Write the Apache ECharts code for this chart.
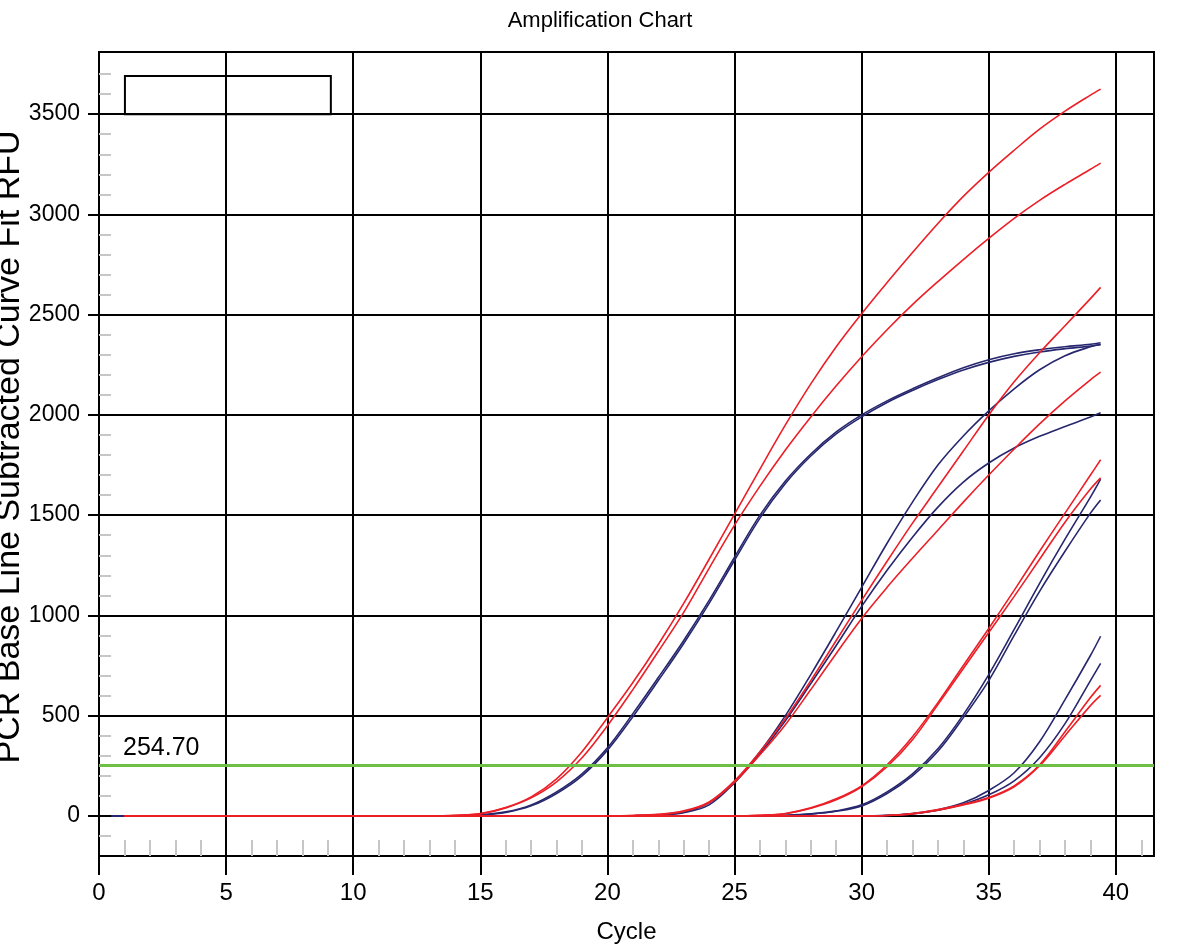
<!DOCTYPE html>
<html>
<head>
<meta charset="utf-8">
<script src="https://cdn.jsdelivr.net/npm/echarts@6/dist/echarts.min.js"></script>
<style>
  html, body { margin: 0; padding: 0; background: #fff; }
  #chart { width: 1200px; height: 950px; }
</style>
</head>
<body>
<div id="chart"></div>
<script>
// ---- data ----
const cycles = [0.5,1,2,3,4,5,6,7,8,9,10,11,12,13,14,15,16,17,18,19,20,21,22,23,24,25,26,27,28,29,30,31,32,33,34,35,36,37,38,39,39.4];

const redA1 = [null, 0,0,0,0,0,0,0,0,0,0, 0,0,0, 3,12,42,95,185,320,490,665,855,1060,1280,1505,1730,1950,2155,2340,2505,2660,2810,2955,3090,3210,3320,3425,3515,3595, 3625];
const redA2 = [null, 0,0,0,0,0,0,0,0,0,0, 0,0,0, 2,10,40,90,170,290,450,630,820,1015,1235,1450,1645,1825,1990,2145,2290,2425,2550,2665,2775,2880,2980,3070,3150,3225, 3256];
const blueA1 = [0, 0,0,0,0,0,0,0,0,0,0, 0,0,0,0, 5,20,55,120,210,340,510,690,875,1075,1290,1500,1670,1805,1915,2000,2070,2130,2185,2235,2275,2305,2325,2340,2352, 2360];
const blueA2 = [0, 0,0,0,0,0,0,0,0,0,0, 0,0,0,0, 4,17,50,112,200,328,495,675,860,1060,1275,1485,1658,1795,1905,1990,2062,2122,2176,2224,2262,2292,2314,2330,2343, 2350];

const redB1 = [null, 0,0,0,0,0,0,0,0,0,0, 0,0,0,0,0,0,0,0,0,0, 2,8,25,70,175,320,485,675,875,1075,1270,1460,1640,1820,2000,2165,2310,2445,2580, 2636];
const redB2 = [null, 0,0,0,0,0,0,0,0,0,0, 0,0,0,0,0,0,0,0,0,0, 2,7,22,65,168,305,455,630,810,985,1140,1285,1425,1565,1700,1830,1955,2070,2175, 2213];
const blueB1 = [0, 0,0,0,0,0,0,0,0,0,0, 0,0,0,0,0,0,0,0,0,0, 1,4,18,65,170,320,500,705,920,1140,1360,1565,1750,1895,2020,2130,2225,2295,2340, 2352];
const blueB2 = [0, 0,0,0,0,0,0,0,0,0,0, 0,0,0,0,0,0,0,0,0,0, 1,4,16,55,165,310,475,660,850,1045,1225,1390,1540,1665,1760,1835,1893,1942,1990, 2011];

const redC1 = [null, 0,0,0,0,0,0,0,0,0,0, 0,0,0,0,0,0,0,0,0,0, 0,0,0,0,0, 3,12,40,85,150,255,395,565,750,935,1125,1320,1510,1700, 1776];
const redC2 = [null, 0,0,0,0,0,0,0,0,0,0, 0,0,0,0,0,0,0,0,0,0, 0,0,0,0,0, 3,11,38,80,145,245,380,555,735,915,1095,1280,1465,1630, 1686];
const blueC1 = [0, 0,0,0,0,0,0,0,0,0,0, 0,0,0,0,0,0,0,0,0,0, 0,0,0,0,0,0, 3,10,25,55,120,210,335,505,705,930,1160,1380,1590, 1680];
const blueC2 = [0, 0,0,0,0,0,0,0,0,0,0, 0,0,0,0,0,0,0,0,0,0, 0,0,0,0,0,0, 2,9,23,50,112,200,322,490,675,900,1120,1320,1510, 1576];

const blueD1 = [0, 0,0,0,0,0,0,0,0,0,0, 0,0,0,0,0,0,0,0,0,0, 0,0,0,0,0,0,0,0,0,0, 3,12,30,65,127,215,370,580,800, 896];
const blueD2 = [0, 0,0,0,0,0,0,0,0,0,0, 0,0,0,0,0,0,0,0,0,0, 0,0,0,0,0,0,0,0,0,0, 2,10,28,58,105,175,290,460,675, 761];
const redD1 = [null, 0,0,0,0,0,0,0,0,0,0, 0,0,0,0,0,0,0,0,0,0, 0,0,0,0,0,0,0,0,0,0, 2,12,32,58,92,150,255,420,590, 651];
const redD2 = [null, 0,0,0,0,0,0,0,0,0,0, 0,0,0,0,0,0,0,0,0,0, 0,0,0,0,0,0,0,0,0,0, 2,10,28,54,88,145,250,400,550, 601];

const threshold = 254.70;
const thresholdLabel = '254.70';

const xMajorTicks = [0,5,10,15,20,25,30,35,40];
const xMinorTicks = [1,2,3,4,6,7,8,9,11,12,13,14,16,17,18,19,21,22,23,24,26,27,28,29,31,32,33,34,36,37,38,39,41];
const yMajorTicks = [0,500,1000,1500,2000,2500,3000,3500];
const yMinorTicks = [-100,100,200,300,400,600,700,800,900,1100,1200,1300,1400,1600,1700,1800,1900,2100,2200,2300,2400,2600,2700,2800,2900,3100,3200,3300,3400,3600,3700];

const blueSeries = [blueA1, blueA2, blueB1, blueB2, blueC1, blueC2, blueD1, blueD2];
const redSeries = [redA1, redA2, redB1, redB2, redC1, redC2, redD1, redD2];

// ---- chart ----
const RED = '#ec1f27';
const BLUE = '#27276f';
const FONT = '"Liberation Sans", Arial, sans-serif';

function toPairs(vals) { return cycles.map((c, i) => [c, vals[i]]); }

function lineSeries(vals, color) {
  return {
    type: 'line',
    data: toPairs(vals),
    xAxisIndex: 0, yAxisIndex: 0,
    showSymbol: false, symbol: 'none',
    smooth: 0.35,
    connectNulls: false,
    lineStyle: { color: color, width: 1.6 },
    itemStyle: { color: color },
    silent: true,
    animation: false
  };
}

const series = [];
blueSeries.forEach(v => series.push(lineSeries(v, BLUE)));
redSeries.forEach(v => series.push(lineSeries(v, RED)));

// decorations: threshold line and the empty box at top-left
const last = series[series.length - 1];
last.markLine = {
  silent: true, symbol: 'none', animation: false,
  lineStyle: { color: '#6dbf45', width: 3, type: 'solid' },
  label: {
    show: true, position: 'insideStartTop', formatter: thresholdLabel,
    fontFamily: FONT, fontSize: 25, color: '#000', distance: [24, 4]
  },
  data: [{ yAxis: threshold }]
};
last.markArea = {
  silent: true, animation: false,
  itemStyle: { color: 'rgba(0,0,0,0)', borderColor: '#000', borderWidth: 2 },
  data: [[{ xAxis: 1.02, yAxis: 3500 }, { xAxis: 9.12, yAxis: 3690 }]]
};

const plainFmt = v => String(v);

const chart = echarts.init(document.getElementById('chart'), null, { renderer: 'canvas' });
chart.setOption({
  animation: false,
  backgroundColor: '#fff',
  title: {
    text: 'Amplification Chart', left: 'center', top: 5,
    textStyle: { fontFamily: FONT, fontSize: 22, fontWeight: 'normal', color: '#000' }
  },
  grid: {
    left: 99, top: 52, width: 1055, height: 804,
    containLabel: false, outerBoundsMode: 'none',
    show: true, borderColor: '#000', borderWidth: 2, backgroundColor: 'transparent'
  },
  xAxis: [
    {
      type: 'value', min: 0, max: 41.5, interval: 5, position: 'bottom',
      axisLine: { show: true, onZero: false, lineStyle: { color: '#000', width: 2 } },
      axisTick: { show: true, inside: false, length: 19, lineStyle: { color: '#000', width: 2 }, customValues: xMajorTicks },
      axisLabel: { customValues: xMajorTicks, formatter: plainFmt, margin: 25, fontFamily: FONT, fontSize: 24, color: '#000' },
      splitLine: { show: true, lineStyle: { color: '#000', width: 2 } },
      name: 'Cycle', nameLocation: 'middle', nameGap: 64, nameMoveOverlap: false,
      nameTextStyle: { fontFamily: FONT, fontSize: 24, color: '#000' }
    },
    {
      type: 'value', min: 0, max: 41.5, position: 'bottom',
      axisLine: { show: false, onZero: false },
      axisTick: { show: true, inside: true, length: 16, lineStyle: { color: '#c6c6c6', width: 2 }, customValues: xMinorTicks },
      axisLabel: { show: false },
      splitLine: { show: false }
    }
  ],
  yAxis: [
    {
      type: 'value', min: -200, max: 3810, minInterval: 500, maxInterval: 500,
      axisLine: { show: true, onZero: false, lineStyle: { color: '#000', width: 2 } },
      axisTick: { show: true, inside: false, length: 11, lineStyle: { color: '#000', width: 2 }, customValues: yMajorTicks },
      axisLabel: { customValues: yMajorTicks, formatter: plainFmt, margin: 19, fontFamily: FONT, fontSize: 23, color: '#000' },
      splitLine: { show: true, lineStyle: { color: '#000', width: 2 } },
      name: 'PCR Base Line Subtracted Curve Fit RFU', nameLocation: 'middle', nameGap: 72, nameMoveOverlap: false,
      nameTextStyle: { fontFamily: FONT, fontSize: 34, color: '#000', padding: [0, 0, 0, 14] }
    },
    {
      type: 'value', min: -200, max: 3810, position: 'left',
      axisLine: { show: false, onZero: false },
      axisTick: { show: true, inside: true, length: 12, lineStyle: { color: '#c6c6c6', width: 2 }, customValues: yMinorTicks },
      axisLabel: { show: false },
      splitLine: { show: false }
    }
  ],
  series: series
});
</script>
</body>
</html>
